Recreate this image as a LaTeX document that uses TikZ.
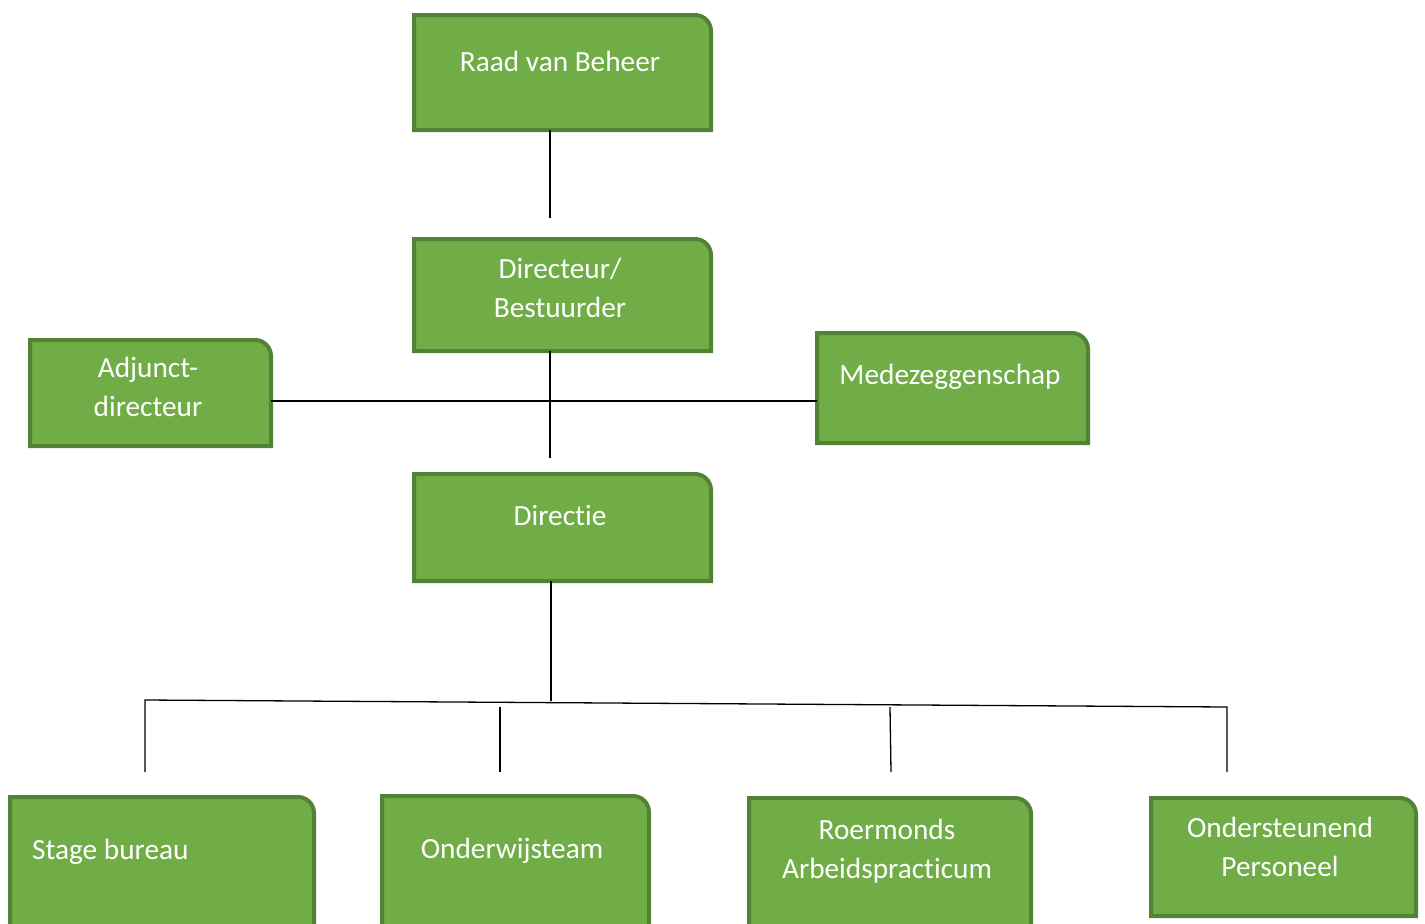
\documentclass[tikz,border=0pt]{standalone}
\usepackage{fontspec}
\setmainfont{Carlito}[Ligatures=NoCommon]
\definecolor{boxfill}{HTML}{70AD47}
\definecolor{boxline}{HTML}{538135}
\tikzset{
  frame/.style={draw=none,inner sep=0pt,outer sep=0pt},
  boxedge/.style={fill=boxfill,draw=boxline,line width=4pt,line join=miter},
  lbl/.style={text=white,font=\fontsize{29.3}{39}\selectfont,align=center,inner sep=0pt},
  conn/.style={draw=black,line width=1.3pt}
}
\newcommand\greenbox[5]{%
  \node[frame,minimum width={#4-#2-4},minimum height={#5-#3-4}] (#1) at ({(#2+#4)/2},{(#3+#5)/2}) {};
  \path[boxedge] (#1.south west) -- (#1.north west) -- ([xshift=-16pt]#1.north east)
    .. controls ([xshift=-7.2pt]#1.north east) and ([yshift=-7.2pt]#1.north east) .. ([yshift=-16pt]#1.north east)
    -- (#1.south east) -- cycle;
}
\begin{document}
\begin{tikzpicture}[x=1pt,y=-1pt]
\clip (0,0) rectangle (1425,924);
\useasboundingbox[fill=white] (0,0) rectangle (1425,924);

\greenbox{raad}{412}{13}{713}{132}
\greenbox{dir}{412}{237}{713}{353}
\greenbox{adj}{28}{338}{273}{448}
\greenbox{mede}{815}{331}{1090}{445}
\greenbox{directie}{412}{472}{713}{583}
\greenbox{stage}{8}{795}{316}{945}
\greenbox{onder}{380}{794}{651}{945}
\greenbox{roer}{747}{796}{1033}{945}
\greenbox{onst}{1149}{796}{1418}{918}

\node[lbl] (raadt) at (560,61) {Raad van Beheer};
\node[lbl] (dirt) at (560,288) {Directeur/\\Bestuurder};
\node[lbl] (adjt) at (148,387) {Adjunct-\\directeur};
\node[lbl] (medet) at (950,377) {Medezeggenschap};
\node[lbl] (directiet) at (560,516) {Directie};
\node[lbl,anchor=west] (staget) at (32,852) {Stage bureau};
\node[lbl] (ondert) at (512,851) {Onderwijsteam};
\node[lbl] (roert) at (887,851) {Roermonds\\Arbeidspracticum};
\node[lbl] (onstt) at (1280,847) {Ondersteunend\\Personeel};

\coordinate (c1) at (550,218);
\coordinate (c2) at (550,458);
\coordinate (c3) at (550,401);
\coordinate (c4) at (551,701);
\coordinate (bl) at (145,700);
\coordinate (br) at (1227,707);
\coordinate (e1) at (145,772);
\coordinate (e2a) at (500,707);
\coordinate (e2) at (500,772);
\coordinate (e3a) at (890,707);
\coordinate (e3) at (891,772);
\coordinate (e4) at (1227,772);

\draw[conn] (raad.south -| c1) -- (c1);
\draw[conn] (dir.south -| c2) -- (c2);
\draw[conn] (adj.east |- c3) -- (mede.west |- c3);
\draw[conn] (directie.south -| c4) -- (c4);
\draw[conn] (e1) -- (bl) -- (br) -- (e4);
\draw[conn] (e2a) -- (e2);
\draw[conn] (e3a) -- (e3);
\end{tikzpicture}
\end{document}
